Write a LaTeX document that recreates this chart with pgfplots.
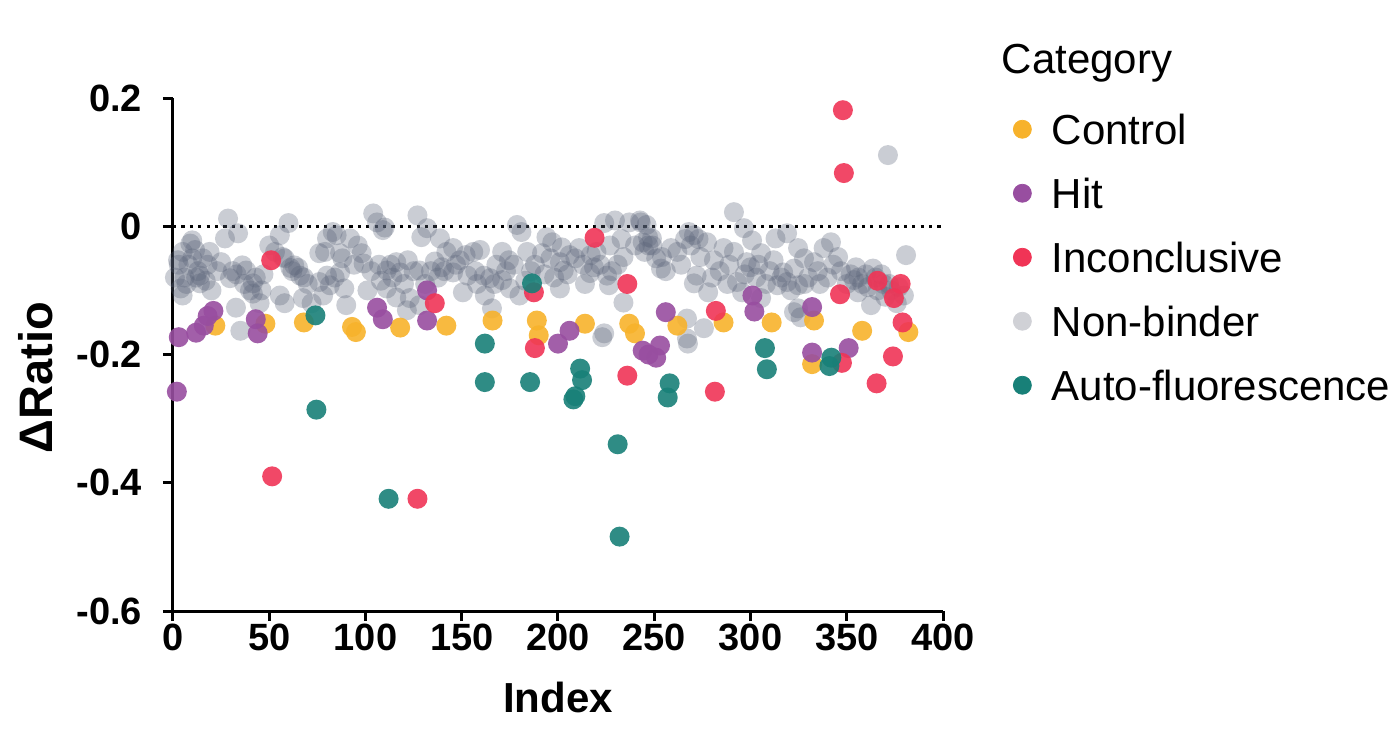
\documentclass[border=0pt]{standalone}
\usepackage{fontspec}
\setmainfont{Liberation Sans}
\usepackage{pgfplots}
\pgfplotsset{compat=1.18}
\definecolor{cControl}{RGB}{247,178,43}
\definecolor{cHit}{RGB}{152,78,160}
\definecolor{cInc}{RGB}{240,52,86}
\definecolor{cNB}{RGB}{90,99,120}
\definecolor{cNBleg}{RGB}{208,209,214}
\definecolor{cAuto}{RGB}{24,128,120}
\pgfplotsset{
  dot/.style={only marks, mark=*, mark size=5pt, color=#1,
    mark options={fill=#1, draw opacity=0, fill opacity=0.9},
    legend image code/.code={\fill[#1] (4.5pt,2pt) circle[radius=4.5pt]; \path (0pt,0pt) (19pt,0pt);}},
  gdot/.style={only marks, mark=*, mark size=5pt, color=cNB,
    mark options={fill=cNB, draw opacity=0, fill opacity=0.32},
    legend image code/.code={\fill[cNBleg] (4.5pt,2pt) circle[radius=4.5pt]; \path (0pt,0pt) (19pt,0pt);}},
}
\begin{document}
\begin{tikzpicture}
\useasboundingbox (-86.5pt,-64.5pt) rectangle (610pt,305.5pt);
\begin{axis}[
  scale only axis, width=385pt, height=256.5pt,
  xmin=0, xmax=400, ymin=-0.6, ymax=0.2,
  axis lines=left, axis line style={-, line width=1.5pt},
  axis on top,
  xtick={0,50,...,400},
  ytick={-0.6,-0.4,-0.2,0,0.2},
  yticklabels={-0.6,-0.4,-0.2,0,0.2},
  tick align=outside, major tick length=5pt,
  tick style={line width=1.5pt, black},
  /pgf/number format/assume math mode=true,
  tick label style={font=\fontsize{19}{19}\selectfont\bfseries},
  yticklabel style={xshift=-7pt},
  xticklabel style={yshift=2pt},
  xlabel={Index}, ylabel={ΔRatio},
  xlabel style={font=\fontsize{21}{21}\selectfont\bfseries, at={(axis description cs:0.5,-0.168)}, anchor=center},
  ylabel style={font=\fontsize{23.5}{23.5}\selectfont\bfseries, at={(axis description cs:-0.178,0.455)}, anchor=center},
  legend style={draw=none, fill=none, at={(rel axis cs:1.0909,1.097)}, anchor=north west,
    inner sep=0pt, outer sep=0pt, row sep=11pt, column sep=0pt,
    font=\fontsize{21}{25}\selectfont,
    nodes={inner sep=0pt, text height=16pt, text depth=5pt}},
  legend cell align=left,
]
\addlegendimage{empty legend}
\addlegendentry{\hspace*{-25pt}\raisebox{3.5pt}{Category}}
\addplot[gdot, forget plot] coordinates {
(1,-0.08) (2.6,-0.053) (4,-0.097) (5,-0.04) (5,-0.108) (6,-0.08) (8,-0.06) (9,-0.027) (10,-0.022) (11.5,-0.037)
(13,-0.07) (14,-0.077) (14,-0.089) (15.5,-0.05) (18,-0.06) (20,-0.1) (23,-0.07) (25,-0.056) (27,-0.019) (28.6,0.012)
(29.6,-0.081) (31,-0.07) (32.7,-0.127) (33.8,-0.011) (35,-0.163) (36,-0.061) (38,-0.069) (40,-0.1) (41.5,-0.089) (41.5,-0.105)
(45,-0.12) (47,-0.075) (50,-0.03)
(53,-0.04) (55.5,-0.014) (55.5,-0.108) (57,-0.048) (58,-0.12) (60,0.005) (61,-0.065) (63,-0.061) (66,-0.077) (67.5,-0.112)
(70,-0.09) (72,-0.12) (76,-0.042) (76,-0.087) (78,-0.108) (79,-0.04) (80,-0.019) (80,-0.077) (81.5,-0.092) (83,-0.009)
(85,-0.014) (86.8,-0.042) (86.8,-0.072) (89,-0.097) (90,-0.123) (92,-0.019) (94,-0.06) (98,-0.042) (99,-0.058) (101,-0.1)
(104,0.02) (106,0.006) (107,-0.06) (109,-0.006) (110,-0.002) (111,-0.069) (111,-0.097) (114,-0.08) (116,-0.056) (116,-0.111)
(118,-0.072) (121.5,-0.131) (122,-0.053) (123,-0.112) (127,0.017) (128,-0.069) (128,-0.123) (129,-0.017) (132,-0.003) (134,-0.07)
(137.7,-0.08) (138.7,-0.019) (139.7,-0.064) (142,-0.04) (145.5,-0.034) (145.5,-0.072) (149,-0.053) (150.6,-0.103)
(153,-0.077) (156,-0.04) (158,-0.09) (159.5,-0.037) (161.5,-0.077) (162,-0.108) (164.7,-0.081) (165.7,-0.128) (168,-0.06) (171,-0.04)
(171,-0.084) (174.5,-0.053) (175,-0.097) (178.7,0.002) (180,-0.108) (181,-0.009) (184,-0.04) (186,-0.07) (191.7,-0.042) (194,-0.017)
(197,-0.025) (198,-0.08) (201,-0.056) (201,-0.097) (202,-0.033)
(203,-0.069) (206,-0.045) (211,-0.034) (214,-0.09) (216.6,-0.073) (218.7,-0.064) (220,-0.04) (223,-0.173) (224,0.005) (224,-0.167)
(225.5,-0.077) (226.5,-0.092) (227,-0.03) (229.6,0.009) (231,-0.06) (234,-0.048) (234,-0.119) (237,0.006) (240,-0.03) (242.6,0.009)
(243,0.006) (245,-0.04) (246,0.002) (246.8,-0.017) (248.8,-0.019) (249,-0.03)
(253.5,-0.066) (254,-0.048) (258.7,-0.034) (262,-0.04) (264,-0.06) (267,-0.144) (267,-0.175) (267.5,-0.183) (268,-0.009) (270.6,-0.014)
(270.6,-0.089) (272,-0.077) (274,-0.048) (275.8,-0.159) (277.4,-0.025) (278,-0.103) (281,-0.053) (284,-0.07) (286,-0.034) (289,-0.06)
(291.4,0.022) (291.4,-0.04) (293,-0.087) (295.6,-0.103) (296.6,-0.003) (298,-0.056) (300,-0.064)
(300.8,-0.022) (303,-0.08) (305.5,-0.042) (305.5,-0.112) (310,-0.07) (312,-0.053) (313,-0.019) (314,-0.092) (317,-0.072) (319,-0.011)
(319,-0.087) (322.6,-0.066) (322.6,-0.134) (324.7,-0.034) (324.7,-0.092) (324.7,-0.128) (326,-0.142) (327.8,-0.05) (330,-0.08) (333,-0.056)
(336,-0.09) (338,-0.034) (341.8,-0.025) (343,-0.06) (345.5,-0.048)
(352,-0.075) (353.8,-0.084) (354.8,-0.064) (355.8,-0.103) (358,-0.09) (360,-0.075) (362.6,-0.123) (363.6,-0.066) (366,-0.1) (368,-0.075)
(370,-0.11) (371.4,0.111) (372,-0.09) (376,-0.12) (379.7,-0.108) (380.8,-0.045)
(3,-0.06) (7,-0.09) (10,-0.05) (12,-0.08) (17,-0.085) (19,-0.04) (33,-0.075) (37,-0.09) (43,-0.08) (46,-0.1)
(58,-0.05) (62,-0.07) (65,-0.065) (68,-0.08) (84,-0.08) (88,-0.05) (96,-0.03) (103,-0.07) (108,-0.085) (113,-0.06)
(120,-0.09) (125,-0.07) (131,-0.09) (136,-0.055) (141,-0.07) (147,-0.06) (152,-0.045) (157,-0.07) (167,-0.09) (173,-0.07)
(177,-0.06) (183,-0.085) (188,-0.06) (193,-0.075) (196,-0.05) (205,-0.075) (209,-0.05) (213,-0.06) (217,-0.045) (222,-0.06)
(228,-0.07) (233,-0.02) (244,-0.025) (247,-0.03) (251,-0.05) (256,-0.07) (266,-0.02) (269,-0.03) (273,-0.02) (280,-0.08)
(288,-0.09) (297,-0.075) (304,-0.06) (308,-0.09) (316,-0.08) (321,-0.1) (328,-0.09) (335,-0.07) (340,-0.08) (347,-0.07)
(350,-0.09) (356,-0.08) (361,-0.095) (365,-0.08) (369,-0.09) (373,-0.1) (377,-0.095)
};
\addplot[dot=cControl] coordinates {
(22,-0.155) (48,-0.152) (68,-0.15) (93,-0.157) (95,-0.165) (118,-0.158) (142,-0.155) (166,-0.147) (189,-0.147) (190,-0.17)
(214,-0.152) (237,-0.152) (240,-0.167) (262,-0.155) (286,-0.15) (311,-0.15) (333,-0.147) (332,-0.215) (358,-0.163) (382,-0.165)
};
\addlegendentry{Control}
\addplot[dot=cHit] coordinates {
(2,-0.258) (3,-0.173) (12,-0.166) (16,-0.155) (18,-0.14) (21,-0.132) (43,-0.145) (44,-0.167) (106,-0.127) (109,-0.145)
(132,-0.1) (132,-0.147) (200,-0.183) (206,-0.163) (244,-0.194) (247,-0.2) (251,-0.205) (253,-0.186) (256,-0.134) (301,-0.108)
(302,-0.133) (332,-0.126) (332,-0.197) (351,-0.19)
};
\addlegendentry{Hit}
\addplot[dot=cInc] coordinates {
(51,-0.053) (51.5,-0.39) (127,-0.425) (136,-0.12) (187.5,-0.103) (188,-0.19) (219,-0.018) (236,-0.09) (236,-0.233) (282,-0.132)
(281.5,-0.258) (346.5,-0.106) (347.5,-0.213) (348,0.181) (348.5,0.083) (366,-0.085) (365.5,-0.245) (374.5,-0.112) (378,-0.09) (379,-0.15)
(374,-0.203)
};
\addlegendentry{Inconclusive}
\addlegendimage{gdot}
\addlegendentry{Non-binder}
\addplot[dot=cAuto] coordinates {
(74,-0.139) (74.5,-0.286) (112,-0.425) (162,-0.183) (162,-0.243) (185.5,-0.243) (186.5,-0.089) (208,-0.27) (209,-0.265) (211.5,-0.222)
(212.5,-0.24) (231,-0.34) (232,-0.484) (257,-0.267) (258,-0.245) (307.5,-0.19) (308.5,-0.223) (342,-0.205) (341,-0.218)
};
\addlegendentry{Auto-fluorescence}
\addplot[black, line width=1.5pt, dash pattern=on 1.6pt off 2.6pt, forget plot] coordinates {(0,0) (400,0)};
\end{axis}
\end{tikzpicture}
\end{document}
